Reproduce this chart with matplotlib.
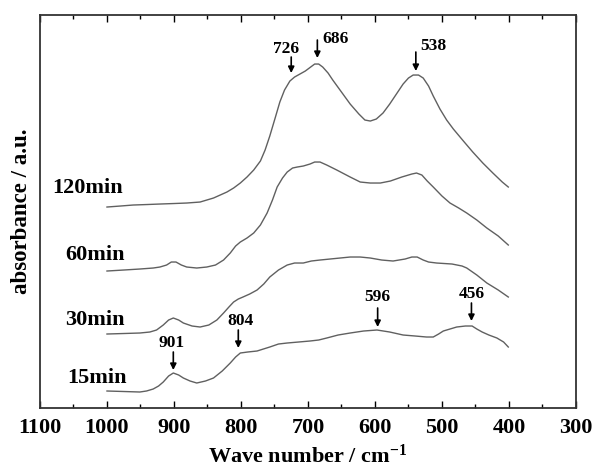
# plot.py
# -----------------------------------------------------------------------------------------------------------------
"""
FTIR-style absorbance spectra at four reaction times, stacked with an offset, with peak positions marked by arrows.
"""
# Import packages: ------------------------------------------------------------------------------------------------

import matplotlib
matplotlib.use('Agg')
import matplotlib.pyplot as plt

# --- Data --------------------------------------------------------------------------------------------------------

wn_120 = [1000, 980, 961, 940, 921, 900, 881, 861, 851, 841, 831, 821, 811, 801, 791, 781, 771, 764, 757, 749,
          742, 735, 727, 720, 712, 704, 696, 690, 684, 678, 670, 663, 650, 637, 624, 615, 607, 598, 588, 578,
          568, 558, 550, 543, 535, 528, 520, 513, 503, 493, 483, 468, 454, 439, 424, 410, 401]
abs_120 = [2.01, 2.02, 2.03, 2.035, 2.04, 2.045, 2.05, 2.06, 2.08, 2.10, 2.13, 2.16, 2.20, 2.25, 2.31, 2.38,
           2.47, 2.58, 2.72, 2.90, 3.06, 3.18, 3.27, 3.31, 3.34, 3.37, 3.41, 3.44, 3.44, 3.41, 3.35, 3.28, 3.16,
           3.04, 2.94, 2.88, 2.87, 2.89, 2.95, 3.04, 3.14, 3.24, 3.30, 3.33, 3.33, 3.30, 3.22, 3.12, 2.99, 2.88,
           2.79, 2.67, 2.56, 2.45, 2.35, 2.26, 2.21]

wn_60 = [1000, 975, 951, 931, 921, 911, 904, 897, 889, 881, 866, 851, 838, 826, 816, 808, 801, 791, 781, 771,
         761, 753, 746, 738, 731, 723, 716, 707, 697, 690, 682, 672, 657, 637, 622, 607, 592, 577, 560, 545,
         538, 530, 522, 513, 500, 488, 475, 463, 448, 433, 416, 401]
abs_60 = [1.37, 1.38, 1.39, 1.40, 1.41, 1.43, 1.46, 1.46, 1.43, 1.41, 1.40, 1.41, 1.43, 1.48, 1.55, 1.62, 1.66,
          1.70, 1.75, 1.83, 1.95, 2.08, 2.21, 2.30, 2.36, 2.40, 2.41, 2.42, 2.44, 2.46, 2.46, 2.43, 2.38, 2.31,
          2.26, 2.25, 2.25, 2.27, 2.31, 2.34, 2.35, 2.33, 2.27, 2.21, 2.12, 2.05, 2.00, 1.95, 1.88, 1.80, 1.72,
          1.63]

wn_30 = [1000, 975, 951, 936, 926, 916, 908, 901, 893, 886, 873, 861, 848, 836, 826, 818, 811, 804, 797, 787,
         776, 766, 757, 744, 731, 720, 707, 695, 682, 667, 652, 637, 622, 607, 590, 573, 555, 545, 537, 528,
         520, 508, 485, 470, 463, 448, 433, 416, 401]
abs_30 = [0.74, 0.745, 0.75, 0.76, 0.78, 0.83, 0.88, 0.90, 0.88, 0.85, 0.82, 0.81, 0.83, 0.88, 0.95, 1.01, 1.06,
          1.09, 1.11, 1.14, 1.18, 1.24, 1.31, 1.38, 1.43, 1.45, 1.45, 1.47, 1.48, 1.49, 1.50, 1.51, 1.51, 1.50,
          1.48, 1.47, 1.49, 1.51, 1.51, 1.48, 1.46, 1.45, 1.44, 1.42, 1.40, 1.33, 1.25, 1.18, 1.11]

wn_15 = [1000, 975, 951, 941, 931, 923, 916, 908, 901, 893, 886, 876, 866, 853, 841, 828, 816, 808, 801, 790,
         776, 757, 744, 731, 714, 697, 684, 672, 655, 637, 617, 597, 578, 558, 540, 523, 513, 505, 498, 488,
         478, 465, 455, 448, 440, 430, 418, 408, 401]
abs_15 = [0.17, 0.165, 0.16, 0.17, 0.19, 0.22, 0.26, 0.32, 0.35, 0.33, 0.30, 0.27, 0.25, 0.27, 0.30, 0.37, 0.45,
          0.51, 0.55, 0.56, 0.57, 0.61, 0.64, 0.65, 0.66, 0.67, 0.68, 0.70, 0.73, 0.75, 0.77, 0.78, 0.76, 0.73,
          0.72, 0.71, 0.71, 0.74, 0.77, 0.79, 0.81, 0.82, 0.82, 0.79, 0.76, 0.73, 0.70, 0.66, 0.61]

series = [(wn_120, abs_120), (wn_60, abs_60), (wn_30, abs_30), (wn_15, abs_15)]

# curve labels: text, wave number of left edge, absorbance
curve_labels = ['120min', '60min', '30min', '15min']
label_wn = [1081, 1063, 1063, 1060]
label_abs = [2.20, 1.53, 0.88, 0.30]

# peak marks: label, arrow wave number, arrow top, arrow tip, text wave number, text absorbance
peak_names = ['726', '686', '538', '901', '804', '596', '456']
peak_wn = [725, 686, 539, 901, 804, 596, 456]
arrow_top = [3.51, 3.68, 3.56, 0.56, 0.78, 1.00, 1.05]
arrow_tip = [3.35, 3.50, 3.37, 0.38, 0.60, 0.81, 0.87]
text_wn = [733, 659, 513, 903, 800, 597, 455]
text_abs = [3.59, 3.69, 3.62, 0.65, 0.87, 1.11, 1.14]

x_ticks = [1100, 1000, 900, 800, 700, 600, 500, 400, 300]

# --- Style -------------------------------------------------------------------------------------------------------

plt.rcParams['font.family'] = ['Liberation Serif', 'DejaVu Serif']
plt.rcParams['font.weight'] = 'bold'
plt.rcParams['mathtext.fontset'] = 'custom'
plt.rcParams['mathtext.rm'] = 'Liberation Serif:bold'
plt.rcParams['mathtext.bf'] = 'Liberation Serif:bold'
plt.rcParams['mathtext.default'] = 'rm'

line_color = '#606060'

# --- Plot --------------------------------------------------------------------------------------------------------

fig = plt.figure(figsize=(5.95, 4.70), dpi=100)
ax = fig.add_axes([0.0672, 0.1319, 0.9008, 0.8361])

for wn, ab in series:
    ax.plot(wn, ab, color=line_color, lw=1.0)

for name, xl, yl in zip(curve_labels, label_wn, label_abs):
    ax.text(xl, yl, name, ha='left', va='center', fontsize=16, fontweight='bold')

for name, xa, y0, y1, xt, yt in zip(peak_names, peak_wn, arrow_top, arrow_tip, text_wn, text_abs):
    ax.annotate('', xy=(xa, y1), xytext=(xa, y0),
                arrowprops=dict(arrowstyle='-|>', color='black', lw=1.2, mutation_scale=9,
                                shrinkA=0, shrinkB=0))
    ax.text(xt, yt, name, ha='center', va='center', fontsize=12.5, fontweight='bold')

# --- Axes --------------------------------------------------------------------------------------------------------

ax.set_xlim(1100, 300)
ax.set_ylim(0, 3.93)
ax.set_xticks(x_ticks)
ax.set_xticks(range(350, 1100, 100), minor=True)
ax.set_xticklabels([str(t) for t in x_ticks], fontsize=16, fontweight='bold')
ax.set_yticks([])
ax.tick_params(axis='x', which='both', direction='in', top=True, bottom=True, pad=7)
ax.tick_params(axis='x', which='major', length=5, width=1.0)
ax.tick_params(axis='x', which='minor', length=3, width=1.0)
for s in ax.spines.values():
    s.set_linewidth(1.3)
    s.set_color('#333333')

ax.set_xlabel('Wave number / cm$^{-1}$', fontsize=16, fontweight='bold', labelpad=5)
ax.set_ylabel('absorbance / a.u.', fontsize=16.5, fontweight='bold', labelpad=6)

fig.savefig('out.png', dpi=100)
# -----------------------------------------------------------------------------------------------------------------
